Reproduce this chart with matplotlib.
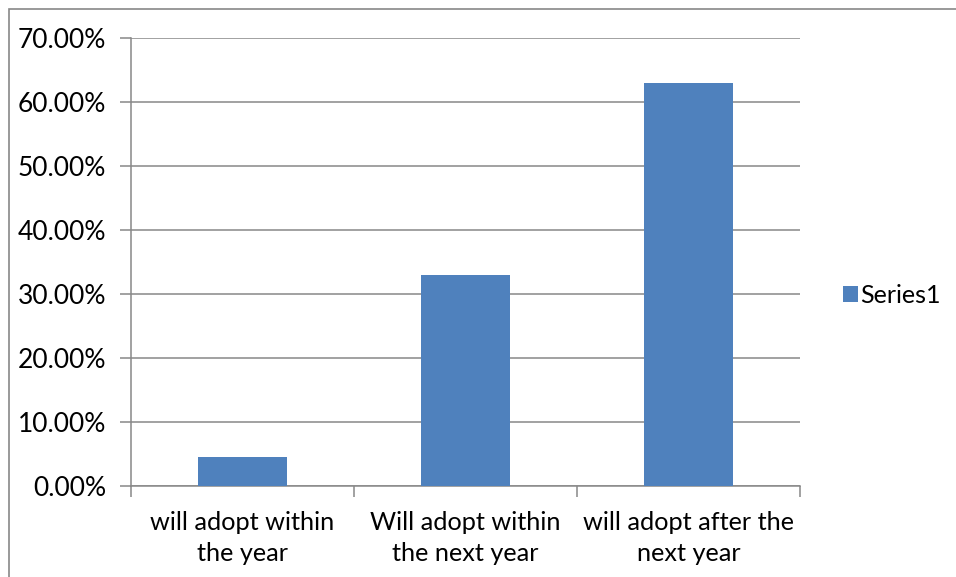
import matplotlib
matplotlib.use("Agg")
import matplotlib.pyplot as plt
from matplotlib.patches import Rectangle
from matplotlib.ticker import FuncFormatter, MultipleLocator
import numpy as np

categories = ["will adopt within\nthe year", "Will adopt within\nthe next year", "will adopt after the\nnext year"]
values = [4.5, 33.0, 63.0]
series_name = "Series1"

plt.rcParams["font.family"] = ["Lato", "DejaVu Sans"]

fig = plt.figure(figsize=(9.56, 5.77), dpi=100)
ax = fig.add_axes([131 / 956, 1 - 486 / 577, 669 / 956, 448 / 577])

# outer chart frame (only top and left edges are inside the picture)
fig.patches.append(Rectangle((9 / 956, -0.1), 1.2, 1 - 9 / 577 + 0.1, transform=fig.transFigure,
                             fill=False, edgecolor="#878787", linewidth=1.2))

x = np.arange(len(categories))
ax.bar(x, values, width=0.4, color="#4F81BD", label=series_name, zorder=3)

ax.set_xlim(-0.5, len(categories) - 0.5)
ax.set_ylim(0, 70)
ax.yaxis.set_major_locator(MultipleLocator(10))
ax.yaxis.set_major_formatter(FuncFormatter(lambda v, p: f"{v:.2f}%"))
ax.grid(axis="y", color="#888888", linewidth=1.1, zorder=0)

for s in ["top", "right"]:
    ax.spines[s].set_visible(False)
for s in ["left", "bottom"]:
    ax.spines[s].set_color("#888888")
    ax.spines[s].set_linewidth(1.1)

ax.set_xticks(x)
ax.set_xticklabels(categories, fontsize=18.2)
for t in ax.get_xticklabels():
    t.set_linespacing(1.4)
ax.set_xticks(np.arange(-0.5, len(categories)), minor=True)
ax.tick_params(axis="x", which="major", length=0, pad=18)
ax.tick_params(axis="x", which="minor", length=8, width=1.1, color="#888888")
ax.tick_params(axis="y", length=8, width=1.1, color="#888888", labelsize=19, pad=10)

ax.legend(loc="center left", bbox_to_anchor=(1.03, 0.425), frameon=False, fontsize=18,
          handlelength=0.6, handleheight=0.6, handletextpad=0.1)

fig.savefig("out.png", dpi=100)
